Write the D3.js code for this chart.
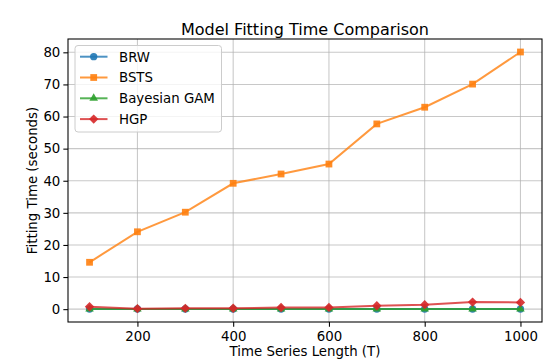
<!DOCTYPE html>
<html><head><meta charset="utf-8">
<script src="https://cdn.jsdelivr.net/npm/d3@7/dist/d3.min.js"></script>
<style>body{margin:0;background:#fff}svg{display:block;font-family:"DejaVu Sans",sans-serif}</style>
</head><body>
<script>
const lengths = [100,200,300,400,500,600,700,800,900,1000];
const brw = [0.05,0.05,0.05,0.05,0.05,0.05,0.05,0.05,0.05,0.05];
const bsts = [14.6,24.1,30.2,39.2,42.1,45.2,57.7,62.9,70.1,80.1];
const gam = [0.02,0.02,0.02,0.02,0.02,0.02,0.02,0.02,0.02,0.02];
const hgp = [0.75,0.15,0.25,0.3,0.5,0.55,1.05,1.4,2.2,2.1];
const seriesNames = ["BRW","BSTS","Bayesian GAM","HGP"];
const xTicks = [200,400,600,800,1000];
const yTicks = [0,10,20,30,40,50,60,70,80];

const colors = ["#1f77b4","#ff7f0e","#2ca02c","#d62728"];
const diamond = {draw(ctx,size){const r=Math.sqrt(size/2);ctx.moveTo(0,-r);ctx.lineTo(r,0);ctx.lineTo(0,r);ctx.lineTo(-r,0);ctx.closePath();}};
const shapes = [d3.symbolCircle, d3.symbolSquare, d3.symbolTriangle, diamond];
const sizes = [42,46,32,44];
const series = [brw,bsts,gam,hgp].map((v,i)=>({name:seriesNames[i],values:v,color:colors[i],shape:shapes[i],size:sizes[i]}));

const W=556,H=360;
const L=68,R=542,T=39,B=322;
const svg=d3.select("body").append("svg").attr("width",W).attr("height",H);
const x=d3.scaleLinear().domain([55,1045]).range([L,R]);
const y=d3.scaleLinear().domain([-4.0,84.15]).range([B,T]);

// grid
const g=svg.append("g");
g.selectAll(".gx").data(xTicks).join("line").attr("x1",d=>x(d)).attr("x2",d=>x(d)).attr("y1",T).attr("y2",B)
  .attr("stroke","#b0b0b0").attr("stroke-opacity",0.7).attr("stroke-width",1.07);
g.selectAll(".gy").data(yTicks).join("line").attr("y1",d=>y(d)).attr("y2",d=>y(d)).attr("x1",L).attr("x2",R)
  .attr("stroke","#b0b0b0").attr("stroke-opacity",0.7).attr("stroke-width",1.07);

// axes
const xa=svg.append("g").attr("transform",`translate(0,${B})`)
  .call(d3.axisBottom(x).tickValues(xTicks).tickSize(4.67).tickPadding(4.5).tickFormat(d3.format("d")));
const ya=svg.append("g").attr("transform",`translate(${L},0)`)
  .call(d3.axisLeft(y).tickValues(yTicks).tickSize(4.67).tickPadding(3).tickFormat(d3.format("d")));
[xa,ya].forEach(a=>{a.select(".domain").remove();a.selectAll("line").attr("stroke","#000").attr("stroke-width",1.07);
  a.selectAll("text").attr("font-size",13.33).attr("fill","#000").attr("font-family","DejaVu Sans");});

// lines
const line=d3.line().x((d,i)=>x(lengths[i])).y(d=>y(d));
const plot=svg.append("g");
series.forEach(s=>{
  plot.append("path").datum(s.values).attr("d",line).attr("fill","none").attr("stroke",s.color).attr("stroke-opacity",0.8).attr("stroke-width",2);
  plot.selectAll(null).data(s.values).join("path")
    .attr("transform",(d,i)=>`translate(${x(lengths[i])},${y(d)})`)
    .attr("d",d3.symbol().type(s.shape).size(s.size))
    .attr("fill",s.color).attr("fill-opacity",0.9);
});

// frame
svg.append("rect").attr("x",L).attr("y",T).attr("width",R-L).attr("height",B-T).attr("fill","none").attr("stroke","#000").attr("stroke-width",1.07);

// title & labels
svg.append("text").attr("x",(L+R)/2).attr("y",35).attr("text-anchor","middle").attr("font-size",16).text("Model Fitting Time Comparison");
svg.append("text").attr("x",(L+R)/2).attr("y",356).attr("text-anchor","middle").attr("font-size",13.33).text("Time Series Length (T)");
svg.append("text").attr("transform",`translate(37,${(T+B)/2}) rotate(-90)`).attr("text-anchor","middle").attr("font-size",13.33).text("Fitting Time (seconds)");

// legend
const lg=svg.append("g");
lg.append("rect").attr("x",75).attr("y",45.5).attr("width",146.5).attr("height",86.5).attr("rx",3)
  .attr("fill","#fff").attr("fill-opacity",0.8).attr("stroke","#cccccc").attr("stroke-width",1);
series.forEach((s,i)=>{
  const yy=56.7+i*20.8;
  lg.append("line").attr("x1",80).attr("x2",107.5).attr("y1",yy).attr("y2",yy).attr("stroke",s.color).attr("stroke-opacity",0.8).attr("stroke-width",2);
  lg.append("path").attr("transform",`translate(93.7,${yy})`).attr("d",d3.symbol().type(s.shape).size(s.size)).attr("fill",s.color).attr("fill-opacity",0.9);
  lg.append("text").attr("x",119).attr("y",yy+4.8).attr("font-size",13.33).text(s.name);
});
</script>
</body></html>
